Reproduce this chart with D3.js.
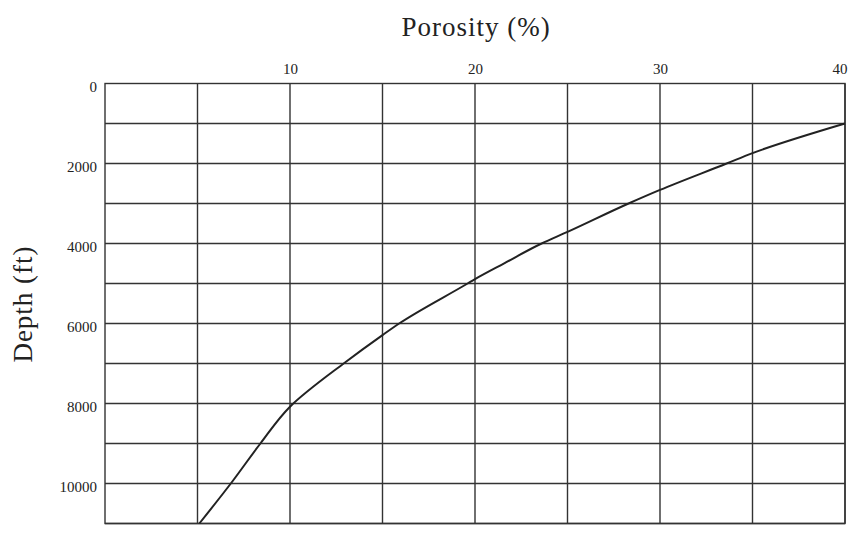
<!DOCTYPE html>
<html>
<head>
<meta charset="utf-8">
<script src="https://cdn.jsdelivr.net/npm/d3@7"></script>
<style>
  body { margin: 0; background: #fff; }
  svg text { font-family: "Liberation Serif", "DejaVu Serif", serif; fill: #222; }
</style>
</head>
<body>
<div id="chart"></div>
<script>
// porosity (%) vs depth (ft)
const porosity = [40, 35, 33.6, 30, 28.3, 25, 23.6, 21.6, 20, 19.6, 15.9, 15, 12.9, 10, 8.4, 6.8, 5.1];
const depth    = [1000, 1740, 2000, 2660, 3000, 3710, 4000, 4490, 4890, 5000, 6000, 6290, 7000, 8080, 9000, 10000, 11000];

const xTicks = [10, 20, 30, 40];
const yTicks = [0, 2000, 4000, 6000, 8000, 10000];
const xGrid = [5, 10, 15, 20, 25, 30, 35, 40];
const yGrid = [1000, 2000, 3000, 4000, 5000, 6000, 7000, 8000, 9000, 10000, 11000];

const W = 848, H = 539;
const margin = {left: 105, right: 3, top: 83.5, bottom: 15.5};

const svg = d3.select("#chart").append("svg")
  .attr("width", W)
  .attr("height", H);

const x = d3.scaleLinear().domain([0, 40]).range([margin.left, W - margin.right]);
const y = d3.scaleLinear().domain([0, 11000]).range([margin.top, H - margin.bottom]);

// grid
const grid = svg.append("g").attr("stroke", "#333").attr("stroke-width", 1.4);
grid.selectAll(".vx").data(xGrid).enter().append("line")
  .attr("x1", d => x(d)).attr("x2", d => x(d))
  .attr("y1", y(0)).attr("y2", y(11000));
grid.selectAll(".hy").data(yGrid).enter().append("line")
  .attr("x1", x(0)).attr("x2", x(40))
  .attr("y1", d => y(d)).attr("y2", d => y(d));
grid.append("rect")
  .attr("x", x(0)).attr("y", y(0))
  .attr("width", x(40) - x(0)).attr("height", y(11000) - y(0))
  .attr("fill", "none");

// axes (labels only)
const xAxis = svg.append("g")
  .attr("transform", "translate(0," + (y(0) - 10) + ")")
  .call(d3.axisTop(x).tickValues(xTicks).tickSize(0).tickPadding(0));
xAxis.select(".domain").remove();
xAxis.selectAll("text").style("font-size", "15px").attr("fill", "#222");
// last label sits at the right edge, keep it inside
xAxis.selectAll("text").filter(d => d === 40).attr("text-anchor", "end").attr("dx", 2);

const yAxis = svg.append("g")
  .attr("transform", "translate(" + (x(0) - 8) + ",0)")
  .call(d3.axisLeft(y).tickValues(yTicks).tickSize(0).tickPadding(0).tickFormat(d3.format("d")));
yAxis.select(".domain").remove();
yAxis.selectAll("text").style("font-size", "15px").attr("dy", "0.5em").attr("fill", "#222");

// curve
const pts = porosity.map((p, i) => [p, depth[i]]);
svg.append("path")
  .datum(pts)
  .attr("fill", "none")
  .attr("stroke", "#222")
  .attr("stroke-width", 2)
  .attr("d", d3.line().x(d => x(d[0])).y(d => y(d[1])).curve(d3.curveMonotoneY));

// titles
svg.append("text")
  .attr("x", 476).attr("y", 36)
  .attr("text-anchor", "middle")
  .style("font-size", "27px")
  .style("letter-spacing", "1px")
  .text("Porosity (%)");

svg.append("text")
  .attr("transform", "translate(32,304) rotate(-90)")
  .attr("text-anchor", "middle")
  .style("font-size", "27px")
  .style("letter-spacing", "1px")
  .text("Depth (ft)");
</script>
</body>
</html>
